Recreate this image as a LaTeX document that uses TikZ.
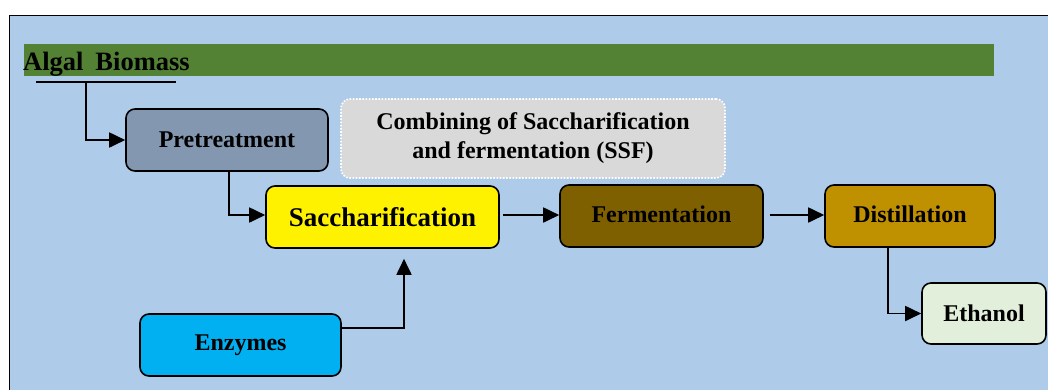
\documentclass[tikz,border=0pt]{standalone}
\usepackage{fontspec}
\setmainfont{Liberation Serif}
\usetikzlibrary{arrows.meta}
\definecolor{bgblue}{RGB}{174,204,234}
\definecolor{bargreen}{RGB}{84,130,53}
\definecolor{pregray}{RGB}{132,151,176}
\definecolor{ssfgray}{RGB}{217,217,217}
\definecolor{fermbrown}{RGB}{127,96,0}
\definecolor{distgold}{RGB}{191,144,0}
\definecolor{ethgreen}{RGB}{226,239,218}
\definecolor{enzblue}{RGB}{0,176,240}
\begin{document}
\begin{tikzpicture}[x=1pt,y=-1pt,
  procbox/.style={draw=black, line width=1.6pt, rounded corners=9pt, inner sep=0pt,
    font=\bfseries\fontsize{24}{29}\selectfont, text=black, align=center},
  conn/.style={line width=1.8pt, -{Triangle[length=16pt,width=15pt]}}]
\useasboundingbox (0,0) rectangle (1048,389);
\fill[bgblue] (9,15) rectangle (1070,410);
\draw[line width=1pt] (9,410) -- (9,15) -- (1070,15);
\fill[bargreen] (24,44) rectangle (994,76);
\node[anchor=base west, font=\bfseries\fontsize{26.5}{31}\selectfont, inner sep=0pt] (alg) at (23,70) {Algal\hspace{0.45em}Biomass};
\coordinate (u1) at (36,82);
\coordinate (u2) at (176,82);
\coordinate (u3) at (86,82);
\draw[line width=2pt] (u1) -- (u2);

\node[procbox, fill=pregray, minimum width=202pt, minimum height=62pt] (pre) at (227,140) {Pretreatment};
\node[procbox, draw=white, dash pattern=on 1.6pt off 1.6pt, line width=1.6pt, fill=ssfgray, minimum width=384pt, minimum height=79pt] (ssf) at (533,138.5) {Combining of Saccharification\\and fermentation (SSF)};
\node[procbox, fill=yellow, minimum width=233pt, minimum height=62pt, font=\bfseries\fontsize{27}{32}\selectfont] (sac) at (382.5,217) {Saccharification};
\node[procbox, fill=fermbrown, minimum width=203pt, minimum height=62pt] (fer) at (661.5,216) {\raisebox{3pt}{Fermentation}};
\node[procbox, fill=distgold, minimum width=170pt, minimum height=62pt] (dis) at (910,216) {\raisebox{3pt}{Distillation}};
\node[procbox, fill=ethgreen, minimum width=124pt, minimum height=61pt] (eth) at (984,313.5) {Ethanol};
\node[procbox, fill=enzblue, minimum width=201pt, minimum height=62pt] (enz) at (240.5,345) {Enzymes};

\draw[conn] (u3) |- (pre.west);
\draw[conn] ([xshift=2pt]pre.south) |- ([yshift=2pt]sac.west);
\draw[conn, shorten <=3pt] ([yshift=2pt]sac.east) -- ([yshift=2pt]sac.east -| fer.west);
\draw[conn, shorten <=6pt] ([yshift=1pt]fer.east) -- ([yshift=1pt]dis.west);
\draw[conn] ([xshift=-22pt]dis.south) |- (eth.west);
\draw[conn, shorten >=10pt] ([yshift=17pt]enz.east) -| ([xshift=21.5pt]sac.south);
\end{tikzpicture}
\end{document}
